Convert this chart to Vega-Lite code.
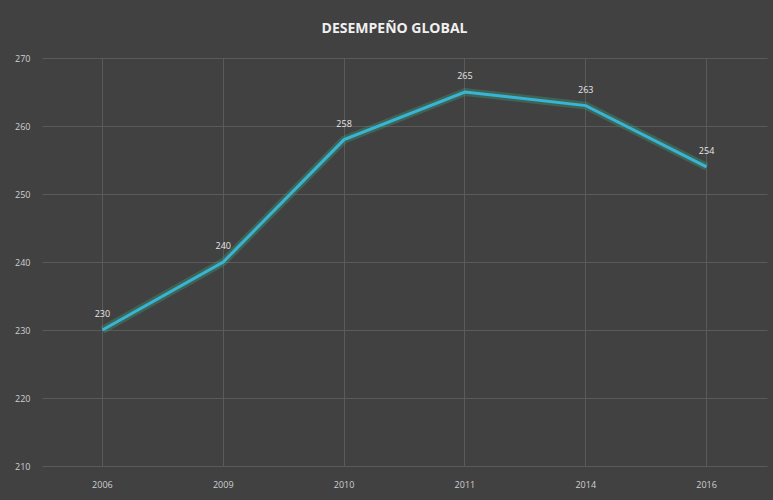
{
  "$schema": "https://vega.github.io/schema/vega-lite/v6.json",
  "autosize": {"type": "none"},
  "width": 725,
  "height": 408,
  "padding": {"left": 42, "top": 58, "right": 6, "bottom": 34},
  "background": "#414141",
  "title": {"text": "DESEMPEÑO GLOBAL", "color": "#f0f0f0", "fontSize": 14, "fontWeight": "bold", "font": "Open Sans", "offset": 18, "anchor": "middle", "dx": -10},
  "config": {
    "view": {"stroke": null},
    "axis": {"domain": false, "ticks": false, "gridColor": "#5a5a5a", "gridWidth": 1, "labelColor": "#cfcfcf", "labelFontSize": 9, "labelFont": "Open Sans"}
  },
  "data": {"values": [
    {"anio": "2006", "puntaje": 230},
    {"anio": "2009", "puntaje": 240},
    {"anio": "2010", "puntaje": 258},
    {"anio": "2011", "puntaje": 265},
    {"anio": "2014", "puntaje": 263},
    {"anio": "2016", "puntaje": 254}
  ]},
  "encoding": {
    "x": {"field": "anio", "type": "ordinal", "bandPosition": 0.5, "scale": {"type": "band", "paddingInner": 0, "paddingOuter": 0}, "axis": {"title": null, "labelAngle": 0, "grid": true, "labelPadding": 14}},
    "y": {"field": "puntaje", "type": "quantitative", "scale": {"domain": [210, 270]}, "axis": {"title": null, "values": [210, 220, 230, 240, 250, 260, 270], "labelPadding": 12}}
  },
  "layer": [
    {"mark": {"type": "line", "color": "#3aa57e", "strokeWidth": 8, "opacity": 0.35}},
    {"mark": {"type": "line", "color": "#3ab4d4", "strokeWidth": 3}},
    {"mark": {"type": "text", "dy": -16, "color": "#e6e6e6", "fontSize": 9, "font": "Open Sans"}, "encoding": {"text": {"field": "puntaje"}}}
  ]
}
